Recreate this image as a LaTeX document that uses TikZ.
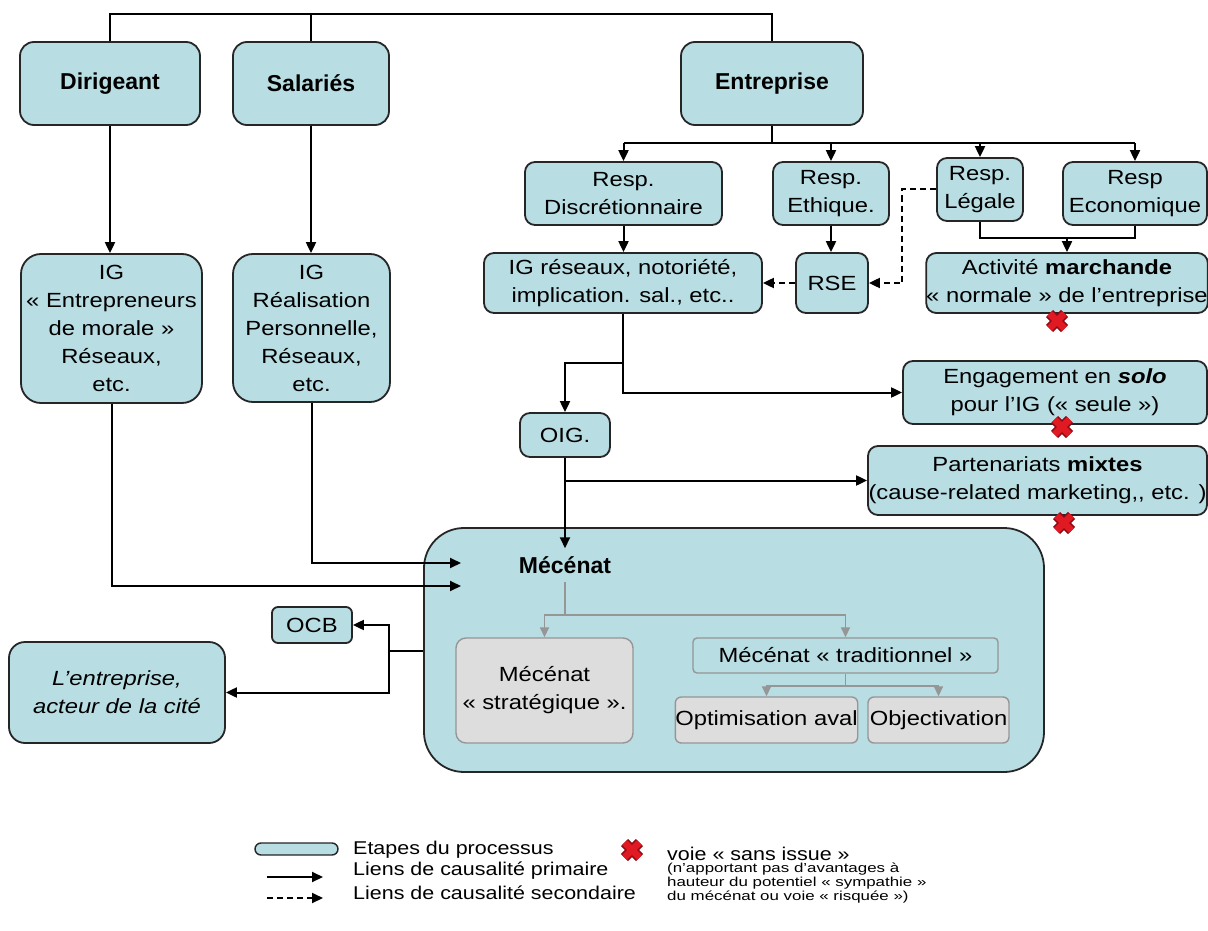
\documentclass[tikz,border=0pt]{standalone}
\usepackage{fontspec}
\setmainfont[FakeStretch=1.16]{Liberation Sans}
\newfontfamily\headfont{Liberation Sans}
\newfontfamily\tinyfont[FakeStretch=1.3]{Liberation Sans}
\usetikzlibrary{arrows.meta}
\definecolor{boxblue}{RGB}{184,221,227}
\definecolor{boxgray}{RGB}{221,221,221}
\definecolor{linegray}{RGB}{150,150,150}
\definecolor{xred}{RGB}{225,25,35}
\definecolor{xdark}{RGB}{140,10,20}
\newcommand\bodysize{\fontsize{20.5}{28}\selectfont}
\begin{document}
\begin{tikzpicture}[x=1pt,y=-1pt,
  wh/.style 2 args={minimum width=#1, minimum height=#2},
  box/.style={draw=black!85, line width=1.8pt, fill=boxblue, rounded corners=#1,
    align=center, inner sep=0pt, font=\bodysize},
  box/.default=10pt,
  head/.style={font=\headfont\bfseries\fontsize{23}{28}\selectfont},
  gbox/.style={draw=linegray, line width=1.4pt, fill=boxgray, rounded corners=#1,
    align=center, inner sep=0pt, font=\bodysize},
  gbox/.default=10pt,
  tbox/.style={draw=linegray, line width=1.4pt, fill=boxblue, rounded corners=4pt,
    align=center, inner sep=0pt, font=\bodysize},
  line/.style={draw=black, line width=2pt},
  arr/.style={line, -{Triangle[length=11pt,width=10pt]}},
  darr/.style={arr, dash pattern=on 6pt off 4pt},
  gline/.style={draw=linegray, line width=1.6pt},
  garr/.style={gline, -{Triangle[length=10pt,width=9pt]}},
  legtext/.style={font=\fontsize{18.5}{21}\selectfont, inner sep=0pt, anchor=west},
  tinytext/.style={font=\tinyfont\fontsize{13}{14}\selectfont, inner sep=0pt, anchor=north west, align=left},
  redx/.pic={
    \draw[xdark, line width=10pt] (-7.5,-7.5) -- (7.5,7.5) (-7.5,7.5) -- (7.5,-7.5);
    \draw[xred, line width=7pt] (-7.5,-7.5) -- (7.5,7.5) (-7.5,7.5) -- (7.5,-7.5);}
]
\fill[white] (0,0) rectangle (1208,931);
\useasboundingbox (0,0) rectangle (1208,931);

% top row
\node[box=14pt, head, wh={180}{83}] (dir) at (110,83.5) {Dirigeant};
\node[box=14pt, head, wh={156}{83}] (sal) at (311,83.5) {Salariés};
\node[box=14pt, head, wh={182}{83}] (ent) at (772,83.5) {Entreprise};

% IG boxes left
\node[box=20pt, wh={181}{149}] (igE) at (111.5,328.5) {IG\\« Entrepreneurs\\de morale »\\Réseaux,\\etc.};
\node[box=20pt, wh={157}{148}] (igR) at (311.5,328) {IG\\Réalisation\\Personnelle,\\Réseaux,\\etc.};

% Resp row
\node[box, wh={197}{63}] (discr) at (623.5,193.5) {Resp.\\Discrétionnaire};
\node[box, wh={116}{63}] (eth) at (831,193.5) {Resp.\\Ethique.};
\node[box, wh={86}{63}] (leg) at (980,189.5) {Resp.\\Légale};
\node[box, wh={144}{63}] (eco) at (1135,193.5) {Resp\\Economique};

% second row
\node[box, wh={278}{60}] (igres) at (623,283) {IG réseaux, notoriété,\\implication. sal., etc..};
\node[box, wh={72}{60}] (rse) at (832,283) {RSE};
\node[box, wh={280}{60}] (act) at (1067,283) {Activité \textbf{marchande}\\« normale » de l’entreprise};

\node[box, wh={304}{63}] (eng) at (1055,392.5) {Engagement en \textbf{\itshape solo}\\pour l’IG (« seule »)};
\node[box, wh={90}{44}] (oig) at (565,435) {OIG.};
\node[box, wh={339}{69}] (part) at (1037.5,480.5) {Partenariats \textbf{mixtes}\\(cause-related marketing,{}, etc. )};

% Mecenat
\node[box=40pt, wh={620}{244}] (mec) at (734,650) {};
\node[head, inner xsep=2pt, inner ysep=8pt] (mect) at (565,565) {Mécénat};
\node[gbox, wh={177}{105}] (strat) at (544.5,690.5) {Mécénat\\« stratégique ».};
\node[tbox, wh={305}{35}] (trad) at (845.5,655.5) {Mécénat « traditionnel »};
\node[gbox=6pt, wh={179}{46}] (opt) at (766.5,720) {Optimisation aval};
\node[gbox=6pt, wh={141}{46}] (obj) at (938.5,720) {Objectivation};

\node[box=6pt, wh={80}{36}] (ocb) at (312,625) {OCB};
\node[box=16pt, wh={216}{101}, font=\bodysize\itshape] (lent) at (117,692.5) {L’entreprise,\\acteur de la cité};

% connectors top
\draw[line] (dir.north) -- (dir.north |- 0,14) -| (ent.north);
\draw[line] (sal.north) -- (sal.north |- 0,14);
\draw[arr] (dir.south) -- (dir.south |- igE.north);
\draw[arr] (sal.south) -- (sal.south |- igR.north);

\draw[line] (ent.south) -- (ent.south |- 0,143);
\draw[line] (discr.north |- 0,143) -- (eco.north |- 0,143);
\foreach \n in {discr,eth,leg,eco} \draw[arr] (\n.north |- 0,143) -- (\n.north);

\draw[line] (leg.south) |- (eco.south |- 0,238) -- (eco.south);
\draw[arr] (act.north |- 0,238) -- (act.north);

\draw[darr] (leg.west) -- ++(-34,0) |- (rse.east);
\draw[darr] (rse.west) -- (igres.east);
\draw[arr] (discr.south) -- (discr.south |- igres.north);
\draw[arr] (eth.south) -- (eth.south |- rse.north);

\draw[arr] (igres.south) |- (eng.west);
\draw[arr] (igres.south |- 0,363) -| (oig.north);
\draw[arr] (oig.south) -- (mect.north);
\draw[arr] (oig.south |- part.west) -- (part.west);

\coordinate (in1) at (461,563);
\coordinate (in2) at (461,586);
\draw[arr] (igR.south) |- (in1);
\draw[arr] (igE.south) |- (in2);

\coordinate (jn) at (389,651);
\draw[line] (mec.west |- jn) -- (jn);
\draw[arr] (jn) |- (ocb.east);
\draw[arr] (jn) |- (lent.east);

% inner gray
\coordinate (g1) at (565,615);
\draw[gline] (mect.south) -- (g1);
\draw[garr] (g1) -| (strat.north);
\draw[garr] (g1) -| (trad.north);
\coordinate (g2) at (845.5,686);
\draw[gline] (trad.south) -- (g2);
\draw[garr] (g2) -| (opt.north);
\draw[garr] (g2) -| (obj.north);

% red crosses
\pic at (1057,321) {redx};
\pic at (1062,427) {redx};
\pic at (1064,523) {redx};

% legend
\node[box=6pt, wh={83}{12}, line width=1.4pt] (lgbox) at (296.5,849) {};
\node[legtext] (lg1) at (353,850) {Etapes du processus};
\node[legtext] (lg2) at (353,871) {Liens de causalité primaire};
\node[legtext] (lg3) at (353,893) {Liens de causalité secondaire};
\coordinate (la1s) at (267,877); \coordinate (la1e) at (323,877);
\draw[arr] (la1s) -- (la1e);
\coordinate (la2s) at (267,898); \coordinate (la2e) at (323,898);
\draw[darr] (la2s) -- (la2e);
\pic at (632,850) {redx};
\node[legtext] (lg4) at (667,854) {voie « sans issue »};
\node[tinytext] (lg5) at (667,863) {(n’apportant pas d’avantages à\\hauteur du potentiel « sympathie »\\du mécénat ou voie « risquée »)};
\end{tikzpicture}
\end{document}
